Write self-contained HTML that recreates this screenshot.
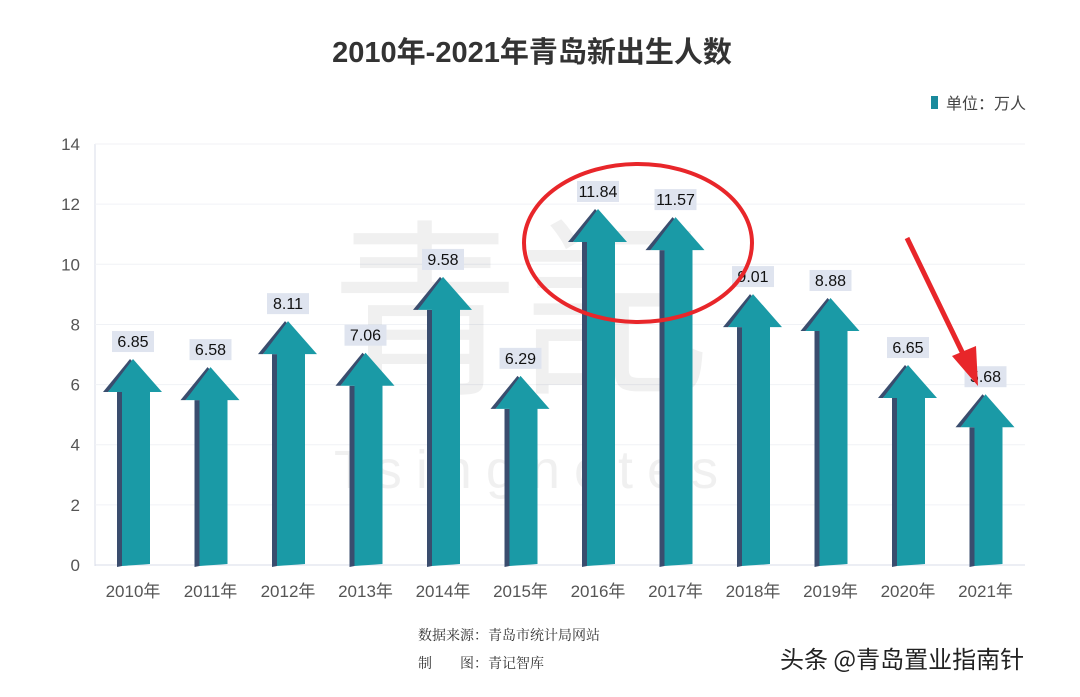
<!DOCTYPE html>
<html><head><meta charset="utf-8"><style>
body{margin:0;width:1080px;height:692px;background:#fff;overflow:hidden;font-family:"Liberation Sans","Noto Sans CJK SC",sans-serif}
</style></head><body>
<svg id="c" width="1080" height="692" xmlns="http://www.w3.org/2000/svg">
<text x="532" y="62" text-anchor="middle" font-size="29" font-weight="bold" fill="#333" font-family="Liberation Sans,Noto Sans CJK SC,sans-serif">2010年-2021年青岛新出生人数</text>
<g>
<rect x="931" y="96" width="7" height="13" fill="#1a8a9c"/>
<text x="946" y="109" font-size="16" fill="#444" font-family="Liberation Sans,Noto Sans CJK SC,sans-serif">单位：万人</text>
</g>
<g id="grid"></g>
<text x="520" y="380" text-anchor="middle" font-size="190" fill="#000" fill-opacity="0.06" font-family="Noto Sans CJK SC,sans-serif">青記</text>
<text x="533" y="488" text-anchor="middle" font-size="54" letter-spacing="14" fill="#000" fill-opacity="0.06" font-family="Liberation Sans,sans-serif">Tsingnotes</text>
<g id="bars"></g>
<ellipse cx="638" cy="243" rx="114" ry="79" fill="none" stroke="#e8262a" stroke-width="4"/>
<g>
<line x1="907" y1="238" x2="965" y2="358" stroke="#e8262a" stroke-width="5"/>
<polygon points="978,386 952,356 976,346" fill="#e8262a"/>
</g>
<text x="418" y="640" font-size="14" fill="#333" font-family="Noto Serif CJK SC,serif">数据来源：青岛市统计局网站</text>
<text x="418" y="668" font-size="14" fill="#333" font-family="Noto Serif CJK SC,serif">制　　图：青记智库</text>
<text x="780" y="668" font-size="24" fill="#222" font-family="Noto Sans CJK SC,sans-serif">头条 @青岛置业指南针</text>
</svg>
<script>
const categories=["2010年","2011年","2012年","2013年","2014年","2015年","2016年","2017年","2018年","2019年","2020年","2021年"];
const values=[6.85,6.58,8.11,7.06,9.58,6.29,11.84,11.57,9.01,8.88,6.65,5.68];
const labels=["6.85","6.58","8.11","7.06","9.58","6.29","11.84","11.57","9.01","8.88","6.65","5.68"];
const yTicks=[0,2,4,6,8,10,12,14];
const NS="http://www.w3.org/2000/svg";
const y=v=>565-v*30.07;
const x=i=>133+i*77.5;
function mk(t,a,p){const e=document.createElementNS(NS,t);for(const k in a)e.setAttribute(k,a[k]);p.appendChild(e);return e;}
const g=document.getElementById('grid'),b=document.getElementById('bars');
mk('line',{x1:95,y1:144,x2:95,y2:566,stroke:'#d8dce8'},g);
yTicks.forEach(t=>{
 const l=mk('line',{x1:95,x2:1025,y1:y(t),y2:y(t),stroke:t?'#f0f2f6':'#d8dce8'},g);
 
 
 const tx=mk('text',{x:80,y:y(t)+6,'text-anchor':'end','font-size':17,fill:'#555'},g);
 tx.textContent=t;
 
 
});
categories.forEach((c,i)=>{
 const cx=x(i),top=y(values[i]),hb=top+33,base=565;
 const grp=mk('g',{},b);
 
 
 mk('polygon',{points:`${cx-16},${hb} ${cx-11},${hb} ${cx-11},${base+1} ${cx-16},${base+2}`,fill:'#3a4d6e'},grp);
 mk('polygon',{points:`${cx-30},${hb} ${cx-3},${top} ${cx},${top+3} ${cx-25},${hb}`,fill:'#3a4d6e'},grp);
 mk('polygon',{points:`${cx-11},${hb} ${cx-25},${hb} ${cx},${top} ${cx+29},${hb} ${cx+17},${hb} ${cx+17},${base-1} ${cx-11},${base+1}`,fill:'#1a9aa6'},grp);
 const r=mk('rect',{x:cx-21,y:top-28,width:42,height:21,fill:'#dfe4ef'},grp);
 
 
 const t=mk('text',{x:cx,y:top-12,'text-anchor':'middle','font-size':16,fill:'#111'},grp);
 t.textContent=labels[i];
 
 
 const xl=mk('text',{x:cx,y:597,'text-anchor':'middle','font-size':17,fill:'#555','font-family':'Liberation Sans,Noto Sans CJK SC,sans-serif'},b);
 xl.textContent=c;
 
 
});
</script>
</body></html>
